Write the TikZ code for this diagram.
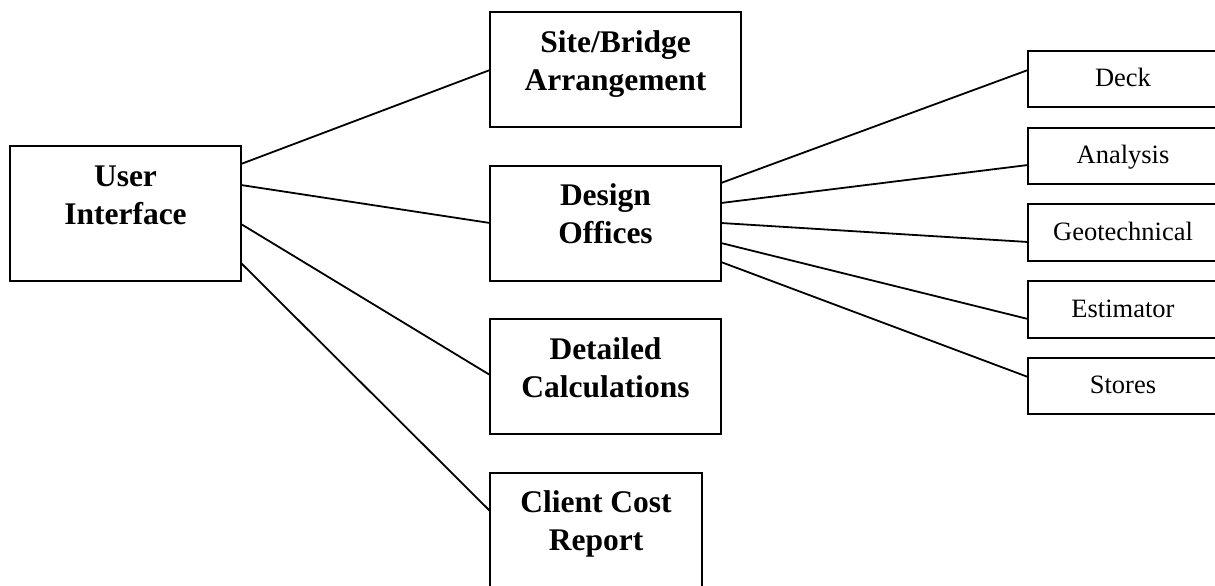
\documentclass[tikz,border=0pt]{standalone}
\usepackage{fontspec}
\setmainfont{Liberation Serif}
\usetikzlibrary{calc}
\begin{document}
\begin{tikzpicture}[x=1pt, y=-1pt,
  box/.style={draw, line width=1.9pt, inner sep=0pt, outer sep=0pt},
  bigbox/.style={box, minimum width=231pt, minimum height=115pt},
  smallbox/.style={box, minimum width=192pt, minimum height=56pt},
  title/.style={anchor=base, align=center, inner sep=0pt,
    font=\fontsize{31.5}{37.5}\selectfont\bfseries},
  item/.style={anchor=base, inner sep=0pt, font=\fontsize{26.5}{30}\selectfont},
  link/.style={line width=1.8pt}]
\useasboundingbox[fill=white] (0,0) rectangle (1215,586);

% main modules
\node[bigbox, minimum height=135pt] (ui) at (125.5,213.5) {};
\node[bigbox, minimum width=251pt] (site) at (615.5,69.5) {};
\node[bigbox] (design) at (605.5,223.5) {};
\node[bigbox] (detail) at (605.5,376.5) {};
\node[bigbox, minimum width=212pt, minimum height=117pt] (client) at (596,531.5) {};

% titles, placed by the baseline of their last line
\node[title] (uiT) at ($(ui.north)+(0,78)$) {User\\Interface};
\node[title] (siteT) at ($(site.north)+(0,78)$) {Site/Bridge\\Arrangement};
\node[title] (designT) at ($(design.north)+(0,77)$) {Design\\Offices};
\node[title] (detailT) at ($(detail.north)+(0,78)$) {Detailed\\Calculations};
\node[title] (clientT) at ($(client.north)+(0,77)$) {Client Cost\\Report};

% design office sub-modules
\node[smallbox] (deck) at (1124,79) {};
\node[smallbox] (analysis) at (1124,156) {};
\node[smallbox, minimum height=57pt] (geo) at (1124,232.5) {};
\node[smallbox, minimum height=57pt] (est) at (1124,309.5) {};
\node[smallbox] (stores) at (1124,386) {};

\node[item] (deckT) at (1123,86) {Deck};
\node[item] (analysisT) at (1123,163) {Analysis};
\node[item] (geoT) at (1123,240) {Geotechnical};
\node[item] (estT) at (1123,317) {Estimator};
\node[item] (storesT) at (1123,393) {Stores};

% connectors
\draw[link] ($(ui.north east)+(0,18)$) -- ($(site.north west)+(0,58)$);
\draw[link] ($(ui.north east)+(0,39)$) -- ($(design.north west)+(0,57)$);
\draw[link] ($(ui.north east)+(0,78)$) -- ($(detail.north west)+(0,56)$);
\draw[link] ($(ui.north east)+(0,117)$) -- ($(client.north west)+(0,38)$);

\draw[link] ($(design.north east)+(0,17)$) -- ($(deck.north west)+(0,19)$);
\draw[link] ($(design.north east)+(0,37)$) -- ($(analysis.north west)+(0,37)$);
\draw[link] ($(design.north east)+(0,57)$) -- ($(geo.north west)+(0,38)$);
\draw[link] ($(design.north east)+(0,77)$) -- ($(est.north west)+(0,38)$);
\draw[link] ($(design.north east)+(0,96)$) -- ($(stores.north west)+(0,19)$);
\end{tikzpicture}
\end{document}
